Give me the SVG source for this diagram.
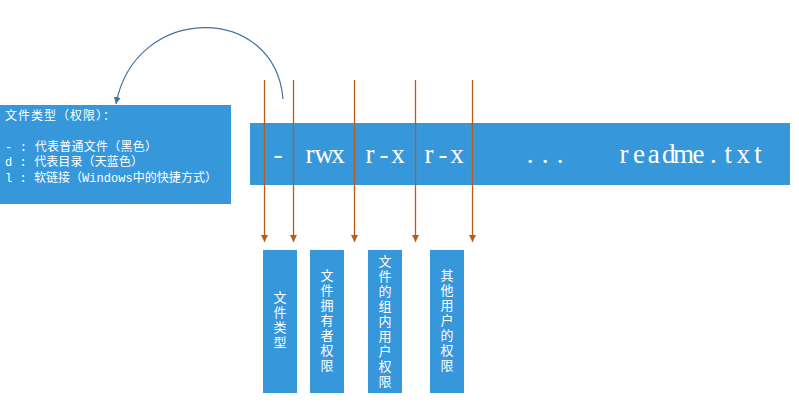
<svg xmlns="http://www.w3.org/2000/svg" width="799" height="408" viewBox="0 0 799 408">
<defs>
<style>
.box{fill:#3797DB}
.lt{font-family:"Liberation Mono","Noto Sans CJK SC",monospace;font-size:12px;fill:#fff}
.big{font-family:"Liberation Serif","Noto Sans CJK SC",serif;font-size:27px;fill:#fff;text-anchor:middle}
.vt{font-family:"Noto Sans CJK SC",sans-serif;font-size:13px;fill:#fff;writing-mode:vertical-rl;text-anchor:middle;letter-spacing:2px}
.ol{stroke:#B85C1E;stroke-width:1.3;fill:none;marker-end:url(#ao)}
.cv{stroke:#41719C;stroke-width:1.2;fill:none;marker-end:url(#ab)}
</style>
<marker id="ao" viewBox="0 0 10 10" refX="10" refY="5" markerWidth="7" markerHeight="7" markerUnits="userSpaceOnUse" orient="auto">
<path d="M0,0 L10,5 L0,10 z" fill="#B85C1E"/>
</marker>
<marker id="ab" viewBox="0 0 10 10" refX="10" refY="5" markerWidth="7" markerHeight="7" markerUnits="userSpaceOnUse" orient="auto">
<path d="M0,0 L10,5 L0,10 z" fill="#41719C"/>
</marker>
</defs>
<rect width="799" height="408" fill="#fff"/>
<g id="legend">
<rect class="box" x="0" y="105" width="231" height="99"/>
<text class="lt" x="5" y="120" textLength="110" lengthAdjust="spacing">文件类型（权限）：</text>
<text class="lt" x="5" y="151" textLength="152" lengthAdjust="spacing">- : 代表普通文件（黑色）</text>
<text class="lt" x="5" y="166" textLength="138" lengthAdjust="spacing">d : 代表目录（天蓝色）</text>
<text class="lt" x="5" y="182" textLength="212" lengthAdjust="spacing">l : 软链接（Windows中的快捷方式）</text>
</g>
<g id="listing">
<rect class="box" x="250" y="123" width="540" height="62"/>
<text class="big" x="278" y="163">-</text>
<text class="big" x="310 324 338" y="163">rwx</text>
<text class="big" x="370 384 398" y="163">r-x</text>
<text class="big" x="429 443 457" y="163">r-x</text>
<text class="big" x="530 545 560" y="163">...</text>
<text class="big" x="624 638.9 653.8 668.7 683.6 698.5 713.4 728.3 743.2 758.1" y="163">readme.txt</text>
</g>
<g id="type">
<rect class="box" x="263" y="250" width="34" height="143"/>
<text class="vt" x="280" y="321">文件类型</text>
</g>
<g id="owner">
<rect class="box" x="310" y="250" width="34" height="143"/>
<text class="vt" x="327" y="321">文件拥有者权限</text>
</g>
<g id="group">
<rect class="box" x="368" y="250" width="34" height="143"/>
<text class="vt" x="385" y="322">文件的组内用户权限</text>
</g>
<g id="others">
<rect class="box" x="430" y="250" width="34" height="143"/>
<text class="vt" x="447" y="321">其他用户的权限</text>
</g>
<g id="connectors">
<line class="ol" x1="264.5" y1="80" x2="264.5" y2="242"/>
<line class="ol" x1="293.5" y1="80" x2="293.5" y2="242"/>
<line class="ol" x1="354.5" y1="80" x2="354.5" y2="242"/>
<line class="ol" x1="415.5" y1="80" x2="415.5" y2="242"/>
<line class="ol" x1="472.5" y1="80" x2="472.5" y2="242"/>
<path class="cv" d="M283,99 C275,3 135,3 116,104"/>
</g>
</svg>
